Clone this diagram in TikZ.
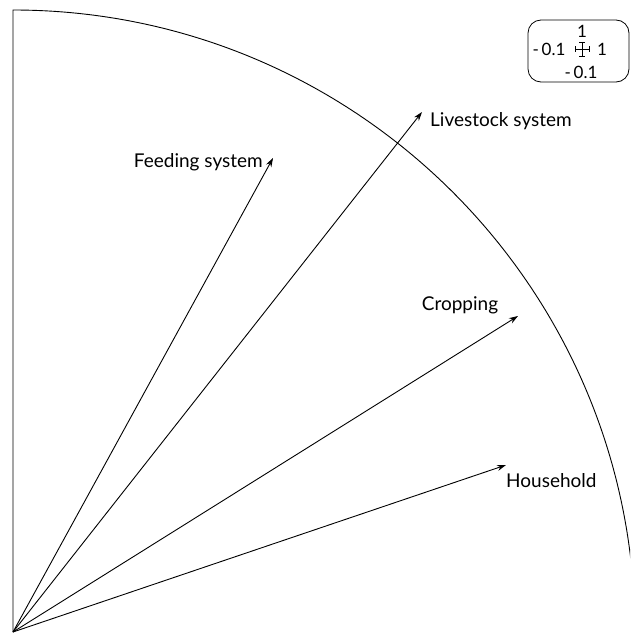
\documentclass[tikz,border=0pt]{standalone}
\usepackage{fontspec}
\setmainfont{Lato}
\usetikzlibrary{arrows.meta,calc}
\begin{document}
\begin{tikzpicture}[x=1pt,y=-1pt,
  vec/.style={-{Stealth[length=9pt,width=6pt]},line width=0.9pt},
  lbl/.style={font=\fontsize{19}{21}\selectfont,inner sep=0pt},
  leg/.style={font=\fontsize{17}{19}\selectfont,inner sep=0pt}]
\useasboundingbox (0,0) rectangle (630,637);
\coordinate (O) at (13,632);
\begin{scope}
\clip (0,0) rectangle (630,637);
\draw[line width=0.9pt] (13,632) -- (13,10) arc[start angle=-90,end angle=0,radius=622];
\end{scope}
\coordinate (fe) at (273,158);
\coordinate (li) at (422,112);
\coordinate (cr) at (518,316);
\coordinate (ho) at (506,465);
\draw[vec] (O) -- (fe);
\draw[vec] (O) -- (li);
\draw[vec] (O) -- (cr);
\draw[vec] (O) -- (ho);
\node[lbl,anchor=east] (tfe) at (263,162) {Feeding system};
\node[lbl,anchor=west] (tli) at (430,121) {Livestock system};
\node[lbl,anchor=center] (tcr) at (460,305) {Cropping};
\node[lbl,anchor=west] (tho) at (506,481) {Household};
% legend
\draw[line width=0.8pt,rounded corners=13pt] (528,20) rectangle (629,82);
\coordinate (c) at (582,49);
\draw[line width=0.6pt] ($(c)+(-7,0)$) -- ($(c)+(7,0)$);
\draw[line width=0.6pt] ($(c)+(0,-7)$) -- ($(c)+(0,7)$);
\draw[line width=0.6pt] ($(c)+(-7,-3)$) -- ($(c)+(-7,3)$);
\draw[line width=0.6pt] ($(c)+(7,-3)$) -- ($(c)+(7,3)$);
\draw[line width=0.6pt] ($(c)+(-3,-7)$) -- ($(c)+(3,-7)$);
\draw[line width=0.6pt] ($(c)+(-3,7)$) -- ($(c)+(3,7)$);
\node[leg,anchor=center] (l1) at (582,31) {1};
\node[leg,anchor=center] (l2) at (549,49) {-\,0.1};
\node[leg,anchor=center] (l3) at (602,49) {1};
\node[leg,anchor=center] (l4) at (581,72) {-\,0.1};
\end{tikzpicture}
\end{document}
